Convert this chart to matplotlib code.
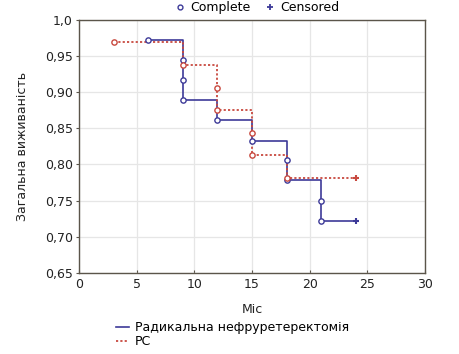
import numpy as np
import matplotlib
matplotlib.use("Agg")
import matplotlib.pyplot as plt
from matplotlib.lines import Line2D

# survival estimates
rne_time = [6, 9, 9, 9, 12, 15, 18, 18, 21, 21]
rne_surv = [0.972, 0.944, 0.917, 0.889, 0.861, 0.833, 0.806, 0.778, 0.750, 0.722]
rne_cens_time = [24]
rne_cens_surv = [0.722]

rc_time = [3, 9, 12, 12, 15, 15, 18]
rc_surv = [0.969, 0.938, 0.906, 0.875, 0.844, 0.813, 0.781]
rc_cens_time = [24]
rc_cens_surv = [0.781]

x_ticks = [0, 5, 10, 15, 20, 25, 30]
y_ticks = [0.65, 0.70, 0.75, 0.80, 0.85, 0.90, 0.95, 1.0]
y_labels = ["0,65", "0,70", "0,75", "0,80", "0,85", "0,90", "0,95", "1,0"]

series_names = ["Радикальна нефруретеректомія", "РС"]

blue = "#3d3a98"
red = "#c8493f"
edge = "#5b554a"

plt.rcParams['font.family'] = ['DejaVu Sans']

fig = plt.figure(figsize=(4.59, 3.54), dpi=100)
ax = fig.add_axes([0.172, 0.229, 0.754, 0.715])


def km_step(times, surv, end_t):
    # step path: horizontal to next time, then drop
    xs, ys = [times[0]], [surv[0]]
    for i in range(1, len(times)):
        xs.append(times[i]); ys.append(surv[i - 1])
        xs.append(times[i]); ys.append(surv[i])
    xs.append(end_t); ys.append(surv[-1])
    return xs, ys


bx, by = km_step(rne_time, rne_surv, rne_cens_time[0])
rx, ry = km_step(rc_time, rc_surv, rc_cens_time[0])

ax.plot(bx, by, color=blue, lw=1.2, zorder=3)
ax.plot(rx, ry, color=red, lw=1.3, ls=(0, (1.2, 1.2)), zorder=4)

ax.plot(rne_time, rne_surv, 'o', ms=3.8, mfc='white', mec=blue, mew=1.0, zorder=5)
ax.plot(rc_time, rc_surv, 'o', ms=3.8, mfc='white', mec=red, mew=1.0, zorder=6)
ax.plot(rne_cens_time, rne_cens_surv, '+', ms=5, mew=1.5, color=blue, zorder=6)
ax.plot(rc_cens_time, rc_cens_surv, '+', ms=5, mew=1.5, color=red, zorder=6)

ax.set_xlim(0, 30)
ax.set_ylim(0.65, 1.0)
ax.set_xticks(x_ticks)
ax.set_yticks(y_ticks)
ax.set_yticklabels(y_labels)
ax.grid(True, color='#e6e6e6', lw=0.9)
ax.set_axisbelow(True)
for s in ax.spines.values():
    s.set_color(edge)
    s.set_linewidth(1.0)
ax.tick_params(axis='x', colors=edge, labelcolor='#222222', labelsize=9,
               length=2.5, width=0.8, direction='in')
ax.tick_params(axis='y', colors=edge, labelcolor='#222222', labelsize=9,
               length=2.5, width=0.8, direction='out', pad=2)

ax.set_xlabel("Міс", fontsize=9, color='#222222', labelpad=9)
ax.set_ylabel("Загальна виживаність", fontsize=9, color='#222222', labelpad=11)

# top legend: markers
top_handles = [
    Line2D([], [], marker='o', ls='none', ms=3.5, mfc='white', mec=blue, mew=1.0),
    Line2D([], [], marker='+', ls='none', ms=5, mew=1.3, color=blue),
]
fig.legend(top_handles, ["Complete", "Censored"], loc='center', bbox_to_anchor=(0.56, 0.978),
           ncol=2, frameon=False, fontsize=9, handlelength=0.8, handletextpad=0.4,
           columnspacing=1.2, borderpad=0)

# bottom legend: lines
bottom_handles = [
    Line2D([], [], color=blue, lw=1.2),
    Line2D([], [], color=red, lw=1.3, ls=(0, (1.2, 1.2))),
]
fig.legend(bottom_handles, series_names, loc='upper left', bbox_to_anchor=(0.24, 0.11),
           frameon=False, fontsize=9, handlelength=1.0, handletextpad=0.5,
           labelspacing=0.05, borderpad=0)

fig.savefig("out.png", dpi=100)
